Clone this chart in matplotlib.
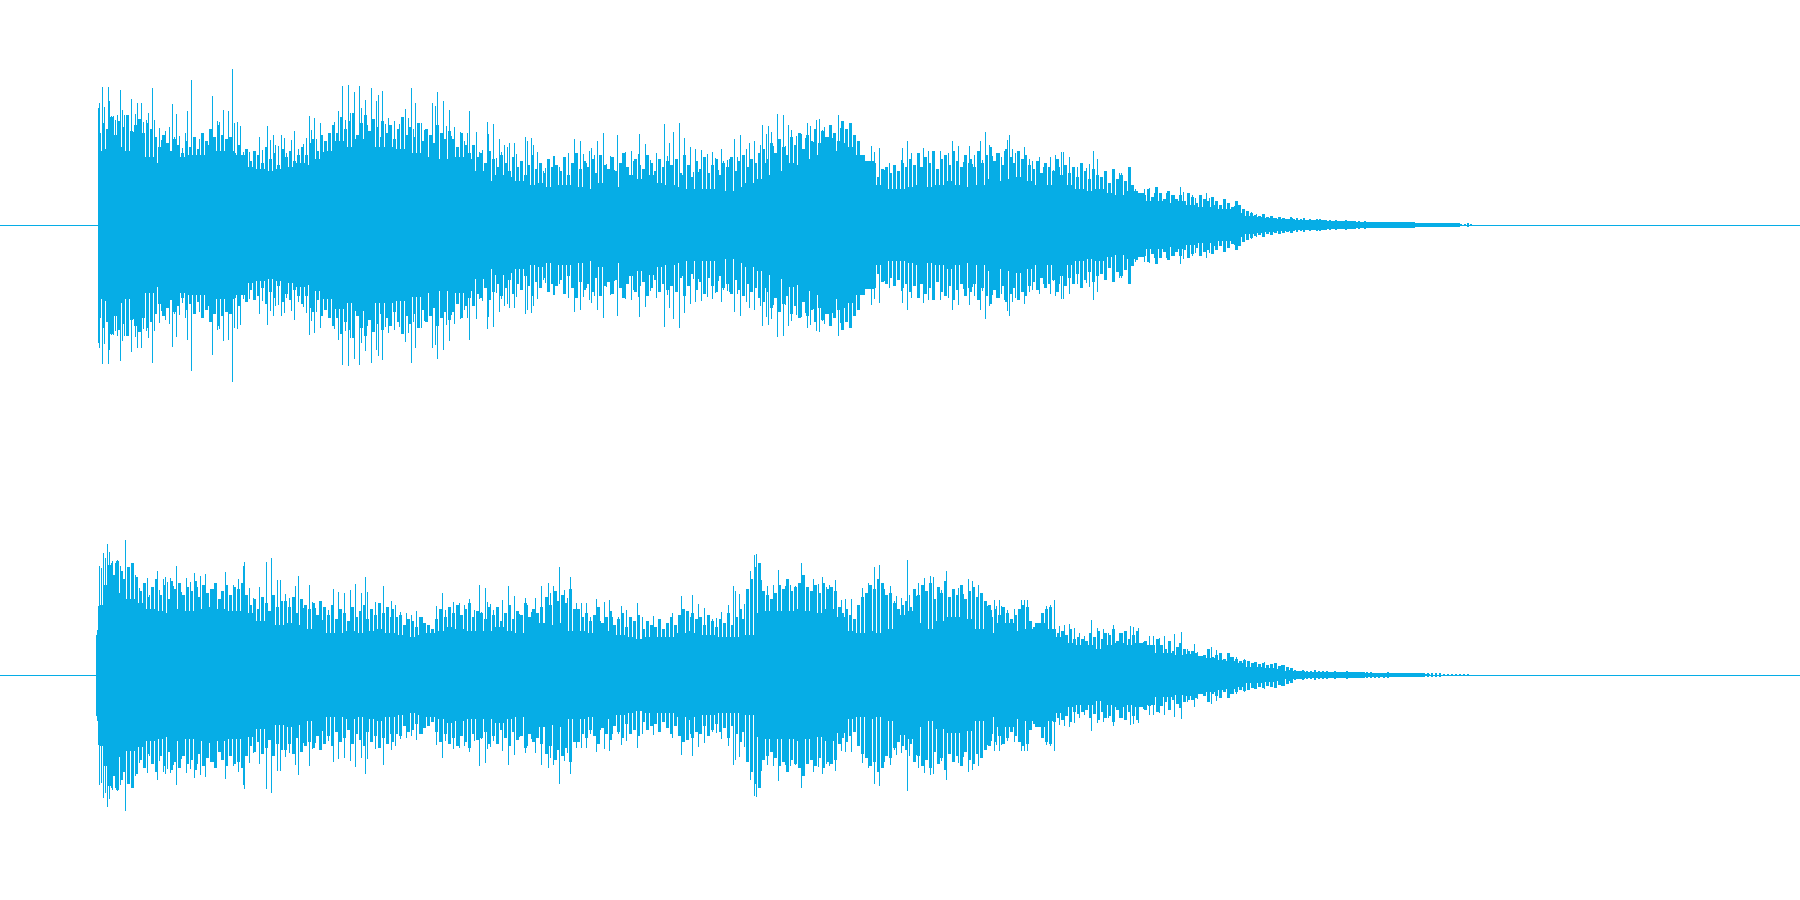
import numpy as np
import matplotlib
matplotlib.use('Agg')
import matplotlib.pyplot as plt

wave_color = '#06ade6'

# tallest columns of each channel as (x, height), heights in px from the centre line
top_peaks = [(97,117),(98,122),(101,138),(103,118),(107,138),(108,124),(110,109),(112,109),(114,105),(116,110),(119,135),(121,115),(123,110),(125,107),(127,95),(130,126),(132,93),(134,111),(136,122),(138,78),(140,122),(142,103),(145,105),(147,112),(147,112),(151,137),(149,89),(151,103),(153,105),(155,75),(158,97),(160,85),(163,85),(164,94),(167,78),(168,98),(171,121),(173,88),(175,111),(178,89),(181,77),(184,92),(186,114),(190,145),(192,86),(194,80),(198,86),(200,73),(202,65),(205,77),(207,80),(211,129),(213,88),(216,104),(218,103),(222,115),(225,85),(227,114),(231,156),(233,102),(236,103),(239,99),(242,73),(245,73),(248,73),(252,68),(254,60),(258,88),(261,75),(266,99),(269,85),(272,90),(274,80),(277,79),(280,90),(283,87),(285,72),(288,69),(290,85),(293,94),(297,76),(300,62),(302,81),(305,87),(308,109),(310,95),(313,107),(315,86),(319,102),(322,73),(325,80),(327,91),(331,95),(333,103),(337,114),(341,139),(344,105),(347,140),(349,112),(353,133),(358,139),(360,117),(364,125),(366,100),(370,137),(375,124),(377,107),
    (370,137),(372,104),(375,124),(377,130),(379,83),(381,134),(384,101),(387,107),(390,100),(393,104),(396,79),(398,101),(400,90),(404,116),(407,107),(410,137),(412,96),(414,122),(418,98),(420,102),(423,95),(425,87),(428,89),(431,122),(434,119),(436,133),(439,92),(442,124),(445,99),(448,115),(450,89),(453,98),(455,76),(459,93),(463,84),(466,92),(468,114),(472,80),(475,93),(478,73),(481,75),(486,103),(487,91),(492,101),(495,67),(498,86),(500,73),(503,80),(506,78),(508,82),(513,82),(515,71),(519,58),(524,88),(526,84),(530,87),(532,80),(536,73),(539,53),(542,54),(544,57),(547,51),(552,69),(553,69),(558,58),(563,57),(567,72),(571,60),(573,86),(579,84),(582,71),(585,62),(588,74),(590,77),(593,70),(596,84),(599,63),(602,92),(605,61),(609,69),(613,55),(616,90),(621,53),(624,73),(628,50),(630,74),(632,64),(637,71),(638,91),(644,81),(646,63),(649,65),(655,72),(658,50),(663,101),(666,69),(668,82),
    (672,93),(675,66),(678,102),(681,50),(683,87),(689,78),(692,53),(694,76),(697,53),(700,75),(703,55),(706,71),(711,73),(714,67),(717,55),(720,76),(722,64),(726,65),(728,66),(733,86),(736,68),(739,90),(742,55),(745,76),(748,82),(750,66),(753,84),(757,54),(759,80),(761,100),(764,62),(765,91),(767,99),(770,93),(772,79),(776,111),(778,84),(782,110),(784,79),(787,100),(790,95),(795,89),(798,90),(800,91),(804,87),(806,102),(809,99),(812,83),(815,105),(818,106),(821,95),(823,98),(827,88),(831,87),(837,110),(839,97),(843,82),(848,91),(850,88),(854,82),(858,48),(865,60),(870,79),(873,73),(878,77),(883,55),(888,62),(893,57),(900,65),(901,77),(906,84),(910,72),(916,58),(922,77),(927,74),(933,71),(939,74),(945,67),(947,72),(951,84),(957,79),(962,62),(968,79),
    (962,63),(965,53),(968,79),(971,61),(973,70),(979,84),(981,65),(984,93),(988,80),(991,69),(995,72),(997,72),(1000,68),(1003,74),(1006,85),(1008,90),(1011,76),(1014,72),(1017,65),(1020,63),(1023,78),(1028,66),(1031,64),(1038,68),(1042,58),(1045,55),(1049,68),(1052,55),(1054,70),(1058,58),(1060,73),(1062,73),(1068,68),(1071,48),(1076,58),(1079,60),(1085,57),(1088,61),(1092,74),(1096,66),(1100,42),(1103,35),(1108,34),(1111,42),(1118,52),(1120,52),(1123,44),(1128,40),(1134,36),(1137,20),(1143,36),(1148,37),(1153,32),(1158,23),(1163,24),(1165,32),(1168,27),(1173,30),(1179,38),(1182,33),(1188,25),(1191,30),(1194,27),(1199,27),(1205,32),(1208,27),(1213,20),(1218,13),(1223,15),(1227,13),(1230,17),(1233,19),(1237,17),(1242,13),(1247,9),(1250,13),(1255,11),(1258,7)]
bot_peaks = [(95,12),(96,45),(97,69),(98,109),(100,107),(102,122),(104,117),(106,131),(108,123),(110,112),(111,114),(114,112),(116,115),(119,109),(121,85),(124,135),(126,89),(128,82),(130,98),(132,90),(134,100),(136,82),(138,87),(140,74),(142,86),(144,72),(146,97),(148,80),(150,76),(152,85),(156,104),(158,85),(160,72),(162,96),(164,98),(166,93),(169,97),(172,89),(175,109),(178,82),(180,83),(183,73),(185,97),(187,78),(189,93),(193,102),(196,88),(199,99),(204,101),(207,73),(209,86),(212,86),(215,72),(218,75),(221,63),(224,103),(226,85),(229,80),(232,90),(237,96),(240,63),(242,109),(243,113),(248,87),(252,77),(258,88),(261,78),(265,113),(270,117),(273,62),(276,95),(279,95),(284,81),(288,77),(292,75),(294,89),(297,99),(302,67),(308,90),(311,73),(314,67),(318,73),(321,55),(327,65),(332,86),(337,83),(343,82),(349,85),(354,91),(360,82),(364,98),(366,83),(374,73),(382,89),(387,68),
    (390,74),(394,70),(399,63),(405,62),(410,60),(415,64),(421,58),(426,40),(430,46),(435,69),(441,82),(444,65),(449,68),(452,73),(458,72),(463,70),(468,76),(473,65),(478,90),(480,63),(484,87),(486,73),(489,71),(492,65),(496,66),(501,75),(507,89),(513,79),(518,61),(524,77),(526,70),(530,63),(534,77),(540,89),(544,77),(547,92),(549,82),(552,89),(555,84),(558,108),(563,85),(566,77),(569,98),(575,72),(580,72),(585,72),(589,58),(595,76),(599,54),(603,73),(608,75),(611,58),(617,58),(620,69),(625,65),(629,42),(636,72),(641,58),(647,49),(652,59),(657,53),(663,38),(667,46),(671,62),(680,79),(683,65),(688,44),
    (691,80),(697,71),(703,67),(711,56),(715,57),(720,63),(727,70),(732,89),(734,84),(738,81),(743,71),(749,104),(753,120),(755,121),(760,95),(766,89),(772,90),(777,105),(781,85),(784,89),(789,90),(794,89),(800,112),(803,94),(806,88),(812,96),(817,91),(821,98),(825,88),(828,90),(834,95),(840,75),(844,76),(850,76),(856,60),(861,87),(867,92),(873,108),(878,110),(883,86),(889,89),(893,74),(895,79),(900,77),(906,115),(908,80),(910,67),(915,79),(917,92),(923,97),(929,99),(932,98),(937,72),(940,85),(945,104),(951,81),(957,87),(962,81),(967,96),(971,94),(977,90),(980,72),(986,69),(988,59),
    (990,65),(993,75),(995,69),(998,75),(1000,69),(1006,65),(1010,51),(1013,66),(1020,75),(1023,75),(1026,75),(1030,52),(1036,51),(1041,62),(1045,69),(1049,70),(1053,75),(1058,49),(1063,50),(1068,51),(1073,47),(1078,42),(1083,39),(1090,55),(1096,47),(1102,46),(1107,42),(1112,50),(1118,42),(1124,40),(1129,49),(1132,48),(1137,47),(1142,33),(1148,39),(1152,39),(1158,37),(1163,39),(1167,32),(1173,41),(1180,43),(1186,26),(1193,31),(1196,23),(1203,20),(1210,28),(1215,25),(1223,16),(1229,18),(1235,18),(1243,16),(1253,12),(1263,13),(1273,11),(1280,10),(1288,5)]

# the dense columns under the peaks, evenly spaced between the given x limits
top_mid_x = [(98, 380), (381, 670), (671, 968), (969, 1290)]
top_mid_a = [92,102,96,108,90,104,98,110,94,100,106,92,102,96,88,78,90,82,74,86,80,72,84,78,88,76,92,84,96,88,100,90,86,88,72,80,68,76,64,74,70,62,78,66,72,60,76,68,74,64,70,78,70,82,86,74,90,84,92,100,92,108,96,104,112,90,102,110,94,106,98,88]
top_mid_b = [104,92,100,86,96,108,90,98,88,102,84,96,90,82,100,92,86,94,86,78,92,80,72,80,68,72,62,74,66,58,70,62,54,68,58,64,50,60,70,56,62,52,66,58,60,54,68,50,62,72,56,64,58,66,52,70,60,56,68,54,62,72,58,50,66,60,56,70,62,54,66,58,64,60]
top_mid_c = [58,66,52,70,60,48,64,56,68,52,60,66,50,62,58,68,54,64,70,58,66,62,72,76,66,82,72,86,78,70,88,80,92,76,90,84,96,82,94,88,100,92,84,104,96,102,90,84,60,50,54,62,48,56,58,52,60,54,62,58,66,60,72,58,68,62,74,56,66,70,60,74,64,58,70,62]
top_mid_d = [66,58,74,62,70,78,64,72,60,76,68,62,74,66,70,60,56,64,52,62,58,54,66,50,60,52,58,48,62,54,46,56,50,48,54,42,56,46,50,44,58,40,34,30,30,36,28,38,32,26,34,30,26,30,24,32,28,22,30,26,24,28,24,20,26,22,18,24,20,16,14,12,10,9,11,8,9,7,8,7,6,7]

bot_mid_x = [(96, 390), (391, 690), (691, 988), (990, 1290)]
bot_mid_a = [40,70,90,110,100,114,104,96,108,112,98,84,92,78,88,96,80,90,76,94,86,92,80,88,84,94,78,90,82,86,92,76,84,90,80,88,86,92,80,70,76,66,78,72,64,80,68,74,74,68,78,62,76,70,66,72,60,74,68,60,70,56,66,62,54,68,58,64,70,56,66,60,72,62,68,58]
bot_mid_b = [66,58,60,50,56,54,48,58,52,50,46,56,66,58,68,62,70,60,66,72,58,64,62,56,68,60,68,54,62,70,56,64,60,72,58,66,62,68,78,70,84,74,80,72,86,66,66,58,62,54,60,68,52,58,64,50,56,62,48,58,54,60,46,54,50,48,56,46,52,58,50,60,66,64,58]
bot_mid_c = [62,56,58,50,60,54,48,56,52,62,50,58,66,56,86,96,108,112,84,80,76,82,90,86,96,84,88,92,100,88,84,90,82,92,86,88,84,68,62,66,60,56,70,78,82,90,86,96,92,80,82,72,66,70,74,68,86,80,90,84,92,76,88,82,94,78,86,80,90,76,84,88,78,82,74,70]
bot_mid_d = [58,66,60,68,62,56,60,66,70,68,54,48,50,62,66,68,46,42,44,40,46,36,38,36,34,42,38,44,36,42,40,46,34,42,44,36,40,44,30,34,30,28,36,30,26,34,24,28,32,26,24,24,22,18,20,26,18,20,22,16,22,18,16,14,15,14,12,13,11,12,10,11,12,9,10,8,7]

# thin end of the sound
top_tail_x = (1290, 1470)
top_tail = [8,6,7,6,7,5,6,5,6,6,5,5,5,4,5,4,4,5,4,3,4,4,3,4,3,3,3,3,3,3,3,2.5,2.5,2.5,2,2,2,2,2,2,2,2,2,2,2,2,1,1,1.5,1,1,1,1,1,1,2,1]
bot_tail_x = (1290, 1467)
bot_tail = [5,5,4,5,4,4,5,4,4,4,3,4,3,3,4,3,3,3,3,3,3,2.5,2.5,2.5,3,2,2,2,2,2,2,2,2,2,2,2,2,2,1,1,1,1,1,1,1]

# solid core, one value every 10 px from x=100
top_core = [74,76,78,74,76,68,62,66,68,70,70,68,74,74,70,58,56,54,56,58,62,60,66,74,84,78,86,86,78,78,76,72,72,68,66,66,68,66,54,44,50,48,44,40,42,38,40,40,38,36,42,42,38,40,46,50,42,40,38,36,36,36,36,34,38,42,46,50,54,62,60,66,70,72,74,78,70,64,40,36,36,38,40,38,40,44,40,38,40,46,44,46,48,44,40,40,38,40,36,34,36,32,30,34,32,24,24,22,24,20,18,18,16,16,12,9,8,7,6,6,5,5,5,4,4,4,3,3,3,3,3,3,2,2,2,2,2]
bot_core = [46,72,82,76,72,66,64,62,66,64,66,68,66,64,64,62,54,52,50,52,50,46,46,42,42,44,42,44,46,42,40,38,40,42,44,48,46,44,44,44,48,44,42,48,52,50,52,44,44,42,42,44,40,38,36,38,38,38,42,42,40,40,38,38,38,40,62,64,64,64,66,64,62,66,58,44,42,44,42,46,60,64,52,46,54,58,58,56,46,42,52,52,44,46,52,46,38,32,30,30,26,30,32,30,32,30,22,22,20,21,19,17,15,14,12,8,8,7,6,4,4,3,3,3,3,3,3,2,2,2,2,2,2,1]

px = 72 / 100  # one pixel as points at dpi 100


def draw_channel(ax, peaks, mid_x, mids, tail_x, tail, core):
    ax.hlines(0, 0, 1800, color=wave_color, lw=px, antialiased=False)

    core = np.array(core)
    xc = 100 + 10 * np.arange(len(core))
    ax.fill_between(xc, -core, core, step='mid', color=wave_color, lw=0, antialiased=False)

    # mid columns are 3 px wide so only thin slits stay open between them
    for (x0, x1), vals in zip(mid_x, mids):
        vals = np.array(vals)
        xs = np.round(np.linspace(x0, x1, len(vals))) + 0.5
        ax.vlines(xs, -vals, vals, color=wave_color, lw=3 * px, antialiased=False)

    xp, hp = zip(*peaks)
    xp = np.array(xp) + 0.5
    hp = np.array(hp)
    ax.vlines(xp, -hp, hp, color=wave_color, lw=px, antialiased=False)

    tail = np.array(tail)
    xt = np.round(np.linspace(tail_x[0], tail_x[1], len(tail))) + 0.5
    ax.vlines(xt, -tail, tail, color=wave_color, lw=2 * px, antialiased=False)

    ax.set_xlim(0, 1800)
    ax.set_ylim(-225, 225)
    ax.axis('off')


fig = plt.figure(figsize=(18, 9), dpi=100)
ax1 = fig.add_axes([0, 0.5, 1, 0.5])
ax2 = fig.add_axes([0, 0, 1, 0.5])

draw_channel(ax1, top_peaks, top_mid_x, [top_mid_a, top_mid_b, top_mid_c, top_mid_d], top_tail_x, top_tail, top_core)
draw_channel(ax2, bot_peaks, bot_mid_x, [bot_mid_a, bot_mid_b, bot_mid_c, bot_mid_d], bot_tail_x, bot_tail, bot_core)

plt.savefig('out.png', dpi=100, facecolor='white')
